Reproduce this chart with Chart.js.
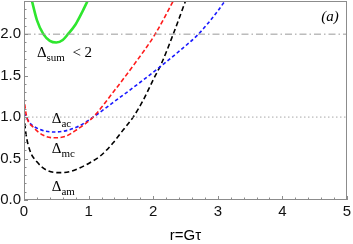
<!DOCTYPE html>
<html>
<head>
<meta charset="utf-8">
<script src="https://cdn.jsdelivr.net/npm/chart.js@4.4.1/dist/chart.umd.min.js"></script>
<style>
  html, body { margin: 0; padding: 0; background: #fff; }
  #wrap { width: 353px; height: 244px; position: relative; }
</style>
</head>
<body>
<div id="wrap"><canvas id="chart"></canvas></div>
<script>
// axis ticks
const xTicks = [0, 1, 2, 3, 4, 5];
const yTicks = [0, 0.5, 1, 1.5, 2];

// Delta_sum (green, solid)
const sumX = [0.12, 0.2, 0.3, 0.4, 0.5, 0.6, 0.68, 0.8, 0.89, 0.99];
const sumY = [2.41, 2.17, 2.0, 1.92, 1.9, 1.93, 2.0, 2.12, 2.25, 2.41];

// Delta_mc (red, dashed)
const mcX = [0, 0.02, 0.05, 0.14, 0.3, 0.48, 0.65, 0.82, 1.07, 1.38, 1.7, 2.03, 2.31];
const mcY = [1.24, 1.1, 0.98, 0.88, 0.78, 0.75, 0.77, 0.85, 1.0, 1.3, 1.63, 2.0, 2.4];

// Delta_ac (blue, dashed)
const acX = [0, 0.09, 0.25, 0.48, 0.82, 1.07, 1.49, 1.8, 2.13, 2.41, 2.7, 3.0, 3.11];
const acY = [1.05, 0.93, 0.85, 0.82, 0.88, 1.0, 1.24, 1.42, 1.62, 1.8, 2.0, 2.28, 2.4];

// Delta_am (black, dashed)
const amX = [0, 0.03, 0.09, 0.2, 0.35, 0.53, 0.7, 0.87, 1.02, 1.18, 1.38, 1.54, 1.69, 1.85, 2.0, 2.13, 2.31, 2.5];
const amY = [1.02, 0.8, 0.6, 0.46, 0.36, 0.33, 0.34, 0.39, 0.45, 0.53, 0.69, 0.85, 1.0, 1.21, 1.45, 1.65, 2.0, 2.4];

// reference levels
const levelX = [0, 5];

function pts(xs, ys) {
  return xs.map((x, i) => ({ x: x, y: ys[i] }));
}

const serif = '"Liberation Serif", "DejaVu Serif", serif';
const sans = '"Liberation Sans", Arial, sans-serif';

// frame, inward ticks, annotations
const decorPlugin = {
  id: 'decor',
  afterDraw(chart) {
    const ctx = chart.ctx;
    const a = chart.chartArea;
    const xs = chart.scales.x, ys = chart.scales.y;
    ctx.save();
    ctx.strokeStyle = '#8c8c8c';
    ctx.lineWidth = 1;
    ctx.strokeRect(a.left + 0.5, a.top + 0.5, a.right - a.left - 1, a.bottom - a.top - 1);

    ctx.beginPath();
    for (let i = 0; i <= 25; i++) {
      const v = i * 0.2;
      const px = Math.round(xs.getPixelForValue(v)) + 0.5;
      const len = (i % 5 === 0) ? 4 : 2.5;
      ctx.moveTo(px, a.bottom);
      ctx.lineTo(px, a.bottom - len);
    }
    for (let i = 0; i <= 24; i++) {
      const v = i * 0.1;
      const py = Math.round(ys.getPixelForValue(v)) + 0.5;
      const len = (i % 5 === 0) ? 4 : 2.5;
      ctx.moveTo(a.left, py);
      ctx.lineTo(a.left + len, py);
    }
    ctx.stroke();

    ctx.fillStyle = '#000';
    ctx.textBaseline = 'alphabetic';
    function delta(x, y, sub, tail) {
      let px = xs.getPixelForValue(x), py = ys.getPixelForValue(y);
      ctx.font = '15px ' + serif;
      ctx.fillText('\u0394', px, py);
      px += ctx.measureText('\u0394').width;
      ctx.font = '11px ' + serif;
      ctx.fillText(sub, px, py + 4);
      px += ctx.measureText(sub).width;
      if (tail) {
        ctx.font = '15px ' + serif;
        ctx.fillText(tail, px, py);
      }
    }
    delta(0.43, 0.93, 'ac');
    delta(0.43, 0.57, 'mc');
    delta(0.43, 0.11, 'am');
    delta(0.2, 1.72, 'sum', '  < 2');

    ctx.font = 'italic 15px ' + serif;
    ctx.fillText('(a)', xs.getPixelForValue(4.6), ys.getPixelForValue(2.16));

    ctx.font = '15px ' + sans;
    ctx.textAlign = 'center';
    ctx.fillText('r=G\u03c4', (a.left + a.right) / 2, 240);
    ctx.restore();
  }
};

new Chart(document.getElementById('chart'), {
  type: 'scatter',
  data: {
    datasets: [
      { data: pts(levelX, [2, 2]), borderColor: '#9a9a9a', borderWidth: 1, borderDash: [7, 3, 1.5, 3] },
      { data: pts(levelX, [1, 1]), borderColor: '#a8a8a8', borderWidth: 1, borderDash: [1.5, 2.5] },
      { data: pts(sumX, sumY), borderColor: '#2ee62e', borderWidth: 2.6 },
      { data: pts(mcX, mcY), borderColor: '#ff1a1a', borderWidth: 1.6, borderDash: [4.5, 2.5] },
      { data: pts(acX, acY), borderColor: '#1a1aff', borderWidth: 1.6, borderDash: [3.5, 2.5] },
      { data: pts(amX, amY), borderColor: '#000000', borderWidth: 1.6, borderDash: [5, 3] }
    ].map(d => Object.assign({ showLine: true, pointRadius: 0, cubicInterpolationMode: 'monotone', fill: false }, d))
  },
  options: {
    responsive: true,
    maintainAspectRatio: false,
    animation: false,
    layout: { padding: { top: 1, right: 6, left: 0, bottom: 0 } },
    plugins: { legend: { display: false }, tooltip: { enabled: false } },
    scales: {
      x: {
        type: 'linear', min: 0, max: 5,
        grid: { display: false, drawTicks: false },
        border: { display: false },
        afterBuildTicks: s => { s.ticks = xTicks.map(v => ({ value: v })); },
        afterFit: s => { s.height = 44; s.paddingLeft = 0; s.paddingRight = 0; },
        ticks: { color: '#111', font: { family: sans, size: 15 }, padding: 3, maxRotation: 0, autoSkip: false,
                 callback: v => String(v) }
      },
      y: {
        type: 'linear', min: 0, max: 2.4,
        grid: { display: false, drawTicks: false },
        border: { display: false },
        afterBuildTicks: s => { s.ticks = yTicks.map(v => ({ value: v })); },
        afterFit: s => { s.width = 24; s.paddingTop = 0; s.paddingBottom = 0; },
        ticks: { color: '#111', font: { family: sans, size: 15 }, padding: 3, autoSkip: false,
                 callback: v => v.toFixed(1) }
      }
    }
  },
  plugins: [decorPlugin]
});
</script>
</body>
</html>
